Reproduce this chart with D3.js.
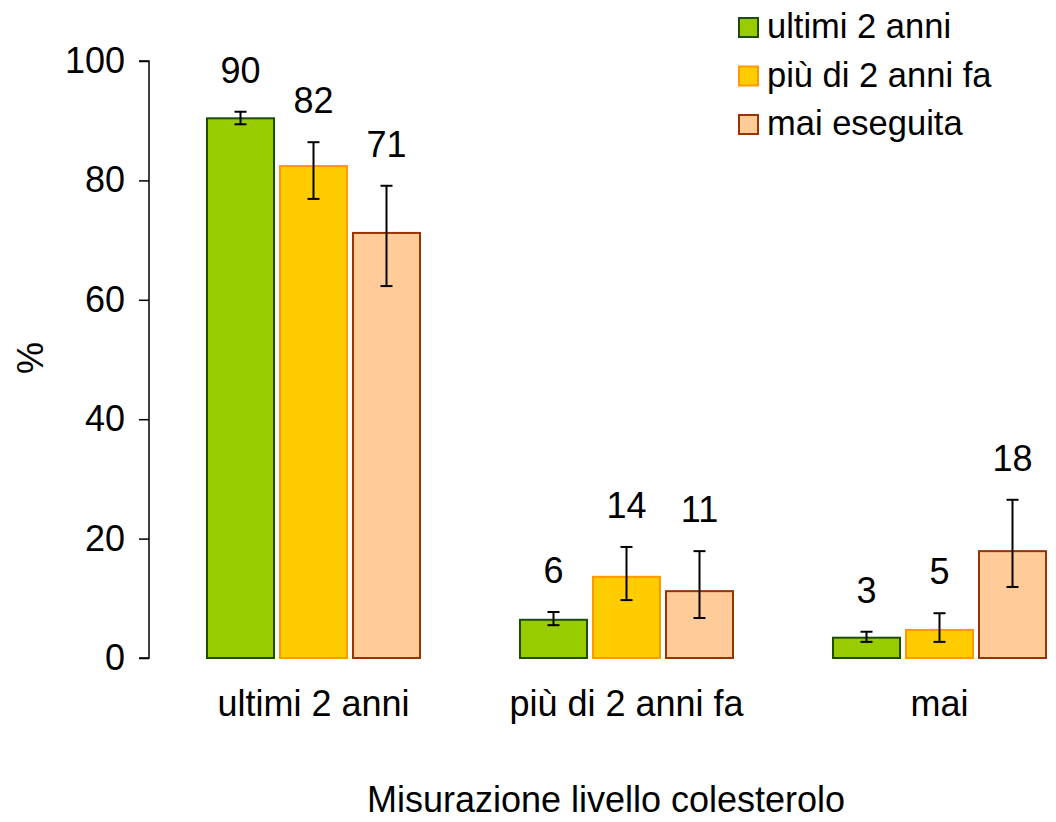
<!DOCTYPE html>
<html>
<head>
<meta charset="utf-8">
<script src="https://cdn.jsdelivr.net/npm/d3@7"></script>
<style>
  body { margin: 0; background: #fff; }
  text { font-family: "Liberation Sans", Arial, sans-serif; fill: #000; }
</style>
</head>
<body>
<svg id="chart" width="1056" height="822"></svg>
<script>
// data
const categories = ["ultimi 2 anni", "più di 2 anni fa", "mai"];
const series = ["ultimi 2 anni", "più di 2 anni fa", "mai eseguita"];

const recentVals = [90.4, 6.4, 3.4];
const recentLow  = [89.4, 5.5, 2.7];
const recentHigh = [91.5, 7.7, 4.4];

const olderVals = [82.4, 13.6, 4.7];
const olderLow  = [76.9, 9.7, 2.7];
const olderHigh = [86.4, 18.6, 7.5];

const neverVals = [71.2, 11.2, 17.9];
const neverLow  = [62.3, 6.7, 11.9];
const neverHigh = [79.1, 17.9, 26.5];

const yTicks = [0, 20, 40, 60, 80, 100];

const fills   = ["#99CC00", "#FFCC00", "#FFCC99"];
const strokes = ["#1E4D00", "#FF9900", "#993300"];

const rows = [];
[[recentVals, recentLow, recentHigh], [olderVals, olderLow, olderHigh], [neverVals, neverLow, neverHigh]]
  .forEach((s, si) => {
    categories.forEach((c, ci) => {
      rows.push({cat: c, ser: series[si], si: si, v: s[0][ci], lo: s[1][ci], hi: s[2][ci]});
    });
  });

var svg = d3.select("#chart");

var y = d3.scaleLinear().domain([0, 100]).range([658, 61]);
var x0 = d3.scaleBand().domain(categories).range([157, 1096]);
var x1 = d3.scaleBand().domain(series).range([-109.5, 109.5]).paddingInner(0.082).paddingOuter(0.041);

// y axis
var yAxis = svg.append("g")
    .attr("transform", "translate(149,0)")
    .call(d3.axisLeft(y).tickValues(yTicks).tickSize(10).tickPadding(14));
yAxis.selectAll("path, line").attr("stroke", "#000").attr("stroke-width", 1.5);
yAxis.select(".domain").attr("d", "M-10," + y(100) + "H0V" + y(0) + "H-10");
yAxis.selectAll("text")
    .style("font-family", "Liberation Sans, Arial, sans-serif")
    .style("font-size", "36px")
    .attr("fill", "#000");

svg.append("text")
    .attr("transform", "translate(43,358) rotate(-90)")
    .attr("text-anchor", "middle")
    .style("font-size", "36px")
    .text("%");

// bars
var barX = d => x0(d.cat) + x0.bandwidth() / 2 + x1(d.ser);
var mid = d => barX(d) + x1.bandwidth() / 2;

svg.append("g").selectAll("rect")
  .data(rows)
  .join("rect")
    .attr("x", barX)
    .attr("y", d => y(d.v))
    .attr("width", x1.bandwidth())
    .attr("height", d => y(0) - y(d.v))
    .attr("fill", d => fills[d.si])
    .attr("stroke", d => strokes[d.si])
    .attr("stroke-width", 2);

// error bars
var err = svg.append("g").selectAll("g")
  .data(rows)
  .join("g")
    .attr("stroke", "#000")
    .attr("stroke-width", 2);
err.append("line")
    .attr("x1", mid).attr("x2", mid)
    .attr("y1", d => y(d.lo)).attr("y2", d => y(d.hi));
err.append("line")
    .attr("x1", d => mid(d) - 6).attr("x2", d => mid(d) + 6)
    .attr("y1", d => y(d.hi)).attr("y2", d => y(d.hi));
err.append("line")
    .attr("x1", d => mid(d) - 6).attr("x2", d => mid(d) + 6)
    .attr("y1", d => y(d.lo)).attr("y2", d => y(d.lo));

// value labels
svg.append("g").selectAll("text")
  .data(rows)
  .join("text")
    .attr("x", mid)
    .attr("y", d => y(d.hi) - 29)
    .attr("text-anchor", "middle")
    .style("font-size", "36px")
    .text(d => d3.format(".0f")(d.v));

// category labels
svg.append("g").selectAll("text")
  .data(categories)
  .join("text")
    .attr("x", d => x0(d) + x0.bandwidth() / 2)
    .attr("y", 716)
    .attr("text-anchor", "middle")
    .style("font-size", "36px")
    .text(d => d);

svg.append("text")
    .attr("x", 606)
    .attr("y", 812)
    .attr("text-anchor", "middle")
    .style("font-size", "36px")
    .text("Misurazione livello colesterolo");

// legend
var legend = svg.append("g").selectAll("g")
  .data(series)
  .join("g")
    .attr("transform", (d, i) => "translate(739," + (18 + i * 48.5) + ")");
legend.append("rect")
    .attr("width", 19).attr("height", 19)
    .attr("fill", (d, i) => fills[i])
    .attr("stroke", (d, i) => strokes[i])
    .attr("stroke-width", 2);
legend.append("text")
    .attr("x", 28)
    .attr("y", 20)
    .style("font-size", "34.5px")
    .text(d => d);
</script>
</body>
</html>
